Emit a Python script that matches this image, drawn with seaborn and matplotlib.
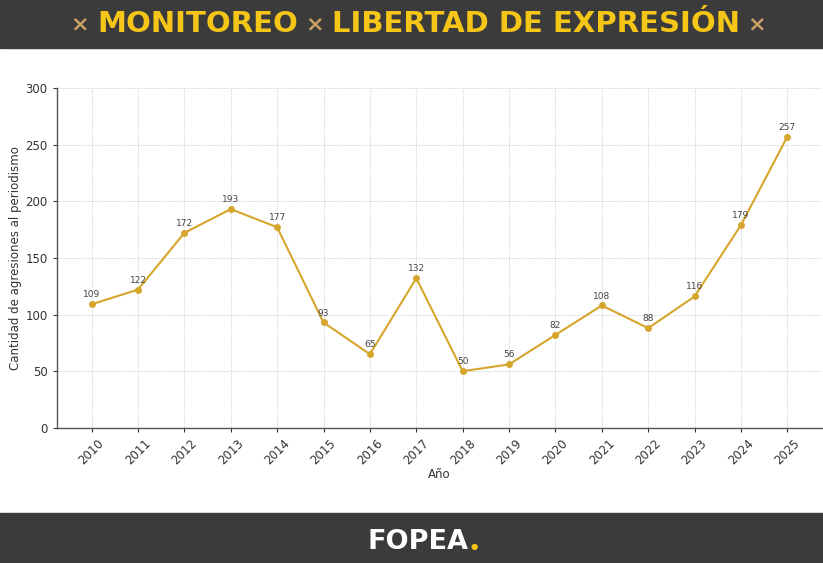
import matplotlib
matplotlib.use("Agg")
import pandas as pd
import seaborn as sns
from matplotlib import pyplot as plt
from matplotlib.patches import Rectangle

years = [2010, 2011, 2012, 2013, 2014, 2015, 2016, 2017,
         2018, 2019, 2020, 2021, 2022, 2023, 2024, 2025]
agresiones = [109, 122, 172, 193, 177, 93, 65, 132,
              50, 56, 82, 108, 88, 116, 179, 257]
y_ticks = [0, 50, 100, 150, 200, 250, 300]

LINE_COLOR = '#d6a52b'
BAND_COLOR = '#3b3b3b'

df = pd.DataFrame({'year': years, 'value': agresiones})

sns.set_style('whitegrid')
plt.rcParams['font.family'] = ['DejaVu Sans']

fig = plt.figure(figsize=(8.23, 5.63), dpi=100)
ax = fig.add_axes([0.069, 0.24, 0.93, 0.604])

sns.lineplot(data=df, x='year', y='value', ax=ax, color=LINE_COLOR,
             marker='o', markersize=5, markeredgewidth=0, linewidth=1.5)

for x, y in zip(years, agresiones):
    ax.annotate(str(y), xy=(x, y), textcoords='offset points', xytext=(0, 5),
                ha='center', fontsize=6.5, color='#444444')

ax.set_ylim(0, 300)
ax.set_yticks(y_ticks)
ax.set_xticks(years)
ax.set_xticklabels([str(y) for y in years], rotation=45)
ax.tick_params(axis='both', labelsize=8.5, colors='#333333', length=3, width=0.8,
               direction='out', left=True, bottom=True)
ax.set_xlabel('Año', fontsize=8.5, color='#333333')
ax.set_ylabel('Cantidad de agresiones al periodismo', fontsize=8.5, color='#333333')
ax.xaxis.set_label_coords(0.5, -0.118)
ax.yaxis.set_label_coords(-0.046, 0.5)

ax.grid(True, color='#dddddd', linestyle=(0, (3, 1)), linewidth=0.6)
for side in ['top', 'right']:
    ax.spines[side].set_visible(False)
for side in ['left', 'bottom']:
    ax.spines[side].set_color('#555555')
    ax.spines[side].set_linewidth(1.0)

# header and footer bands
fig.patches.append(Rectangle((0, 1 - 48 / 563), 1, 48 / 563, transform=fig.transFigure,
                             color=BAND_COLOR, zorder=0))
fig.patches.append(Rectangle((0, 0), 1, 50 / 563, transform=fig.transFigure,
                             color=BAND_COLOR, zorder=0))

yh = 1 - 24 / 563
fig.text(80 / 823, yh, '×', color='#c9a063', fontsize=16, fontweight='bold',
         ha='center', va='center')
fig.text(198 / 823, yh, 'MONITOREO', color='#f5c518', fontsize=21, fontweight='heavy',
         ha='center', va='center')
fig.text(315 / 823, yh, '×', color='#c9a063', fontsize=16, fontweight='bold',
         ha='center', va='center')
fig.text(536 / 823, yh, 'LIBERTAD DE EXPRESIÓN', color='#f5c518', fontsize=21,
         fontweight='heavy', ha='center', va='center')
fig.text(757 / 823, yh, '×', color='#c9a063', fontsize=16, fontweight='bold',
         ha='center', va='center')

fig.text(418 / 823, 1 - 542 / 563, 'FOPEA', color='white', fontsize=19.5, fontweight='heavy',
         ha='center', va='center')
fig.text(474 / 823, 1 - 547 / 563, '●', color='#f5c518', fontsize=6,
         ha='center', va='center')

fig.savefig('out.png', dpi=100)
